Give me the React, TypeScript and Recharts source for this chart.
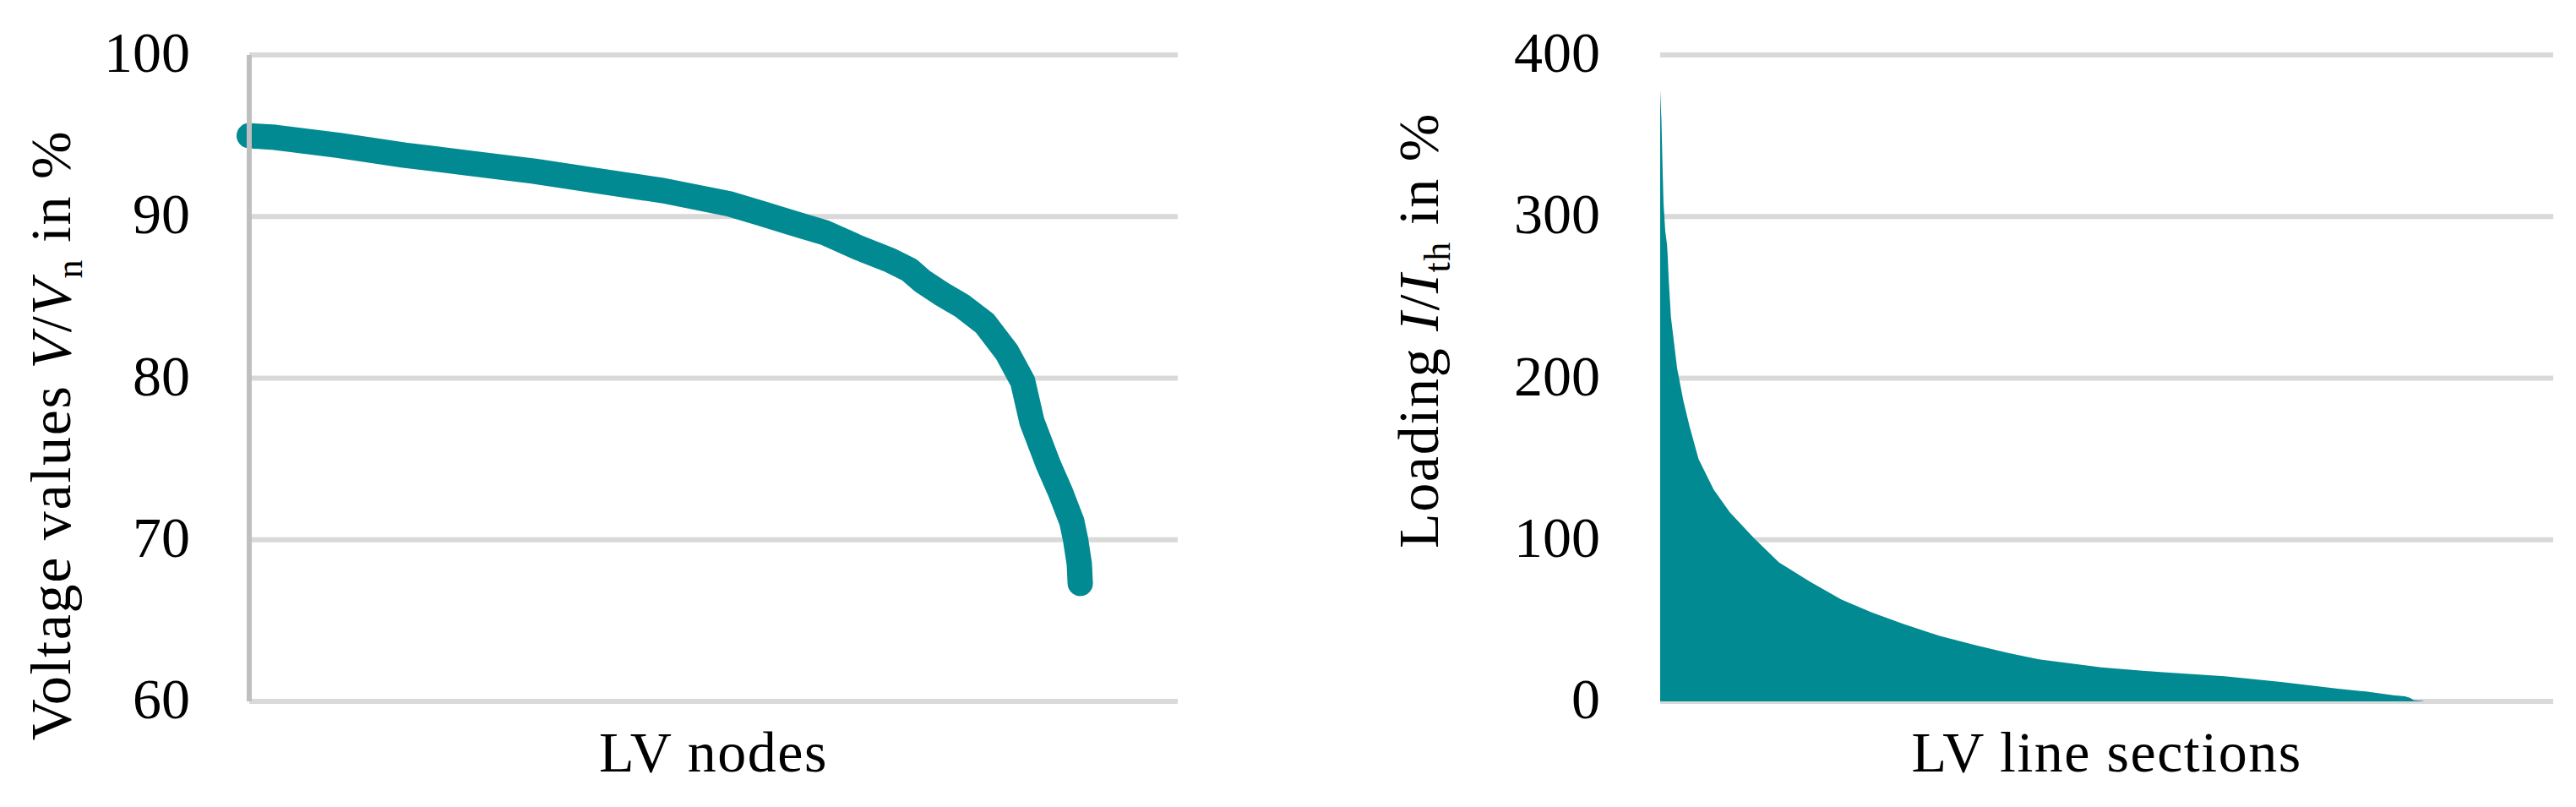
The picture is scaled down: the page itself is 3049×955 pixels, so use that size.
import React from "react";
import {
  LineChart,
  Line,
  AreaChart,
  Area,
  XAxis,
  YAxis,
  CartesianGrid,
} from "recharts";

const TEAL = "#028A93";
const GRID = "#D9D9D9";
const AXIS = "#BFBFBF";
const FONT = "'Liberation Serif', 'Times New Roman', serif";
const FS = 68;

// left panel: sorted node voltages, node rank on a 0..1000 scale of the axis
const nodeRank = [
  0, 28, 97, 167, 237, 307, 376, 446, 516, 551, 585, 620, 655, 690, 711, 725,
  746, 767, 792, 816, 833, 843, 861, 874, 886, 890, 894, 895,
];
const voltagePct = [
  95.0, 94.9, 94.4, 93.8, 93.3, 92.8, 92.2, 91.6, 90.8, 90.2, 89.6, 89.0, 88.1,
  87.3, 86.7, 86.0, 85.2, 84.5, 83.4, 81.6, 79.8, 77.3, 74.6, 72.9, 71.1, 70.0,
  68.5, 67.3,
];
const voltageTicks = [60, 70, 80, 90, 100];

// right panel: sorted line loadings, section rank on a 0..1000 scale
const sectionRank = [
  0, 1.4, 2.8, 3.8, 5.7, 7.6, 8.5, 9.5, 12, 19, 26, 33, 43, 60, 78, 105, 133,
  168, 203, 237, 272, 313, 355, 390, 424, 494, 563, 632, 695, 727, 759, 790,
  821, 834, 840, 844, 854, 855,
];
const loadingPct = [
  378, 360, 328, 308, 291, 283, 275, 262, 238, 206, 186, 170, 150, 131, 117,
  101, 86, 74, 63, 55, 48, 40.5, 34.5, 30, 26, 21, 18, 15.5, 12, 10, 7.9, 6.1,
  3.8, 3.1, 2.1, 0.6, 0.3, 0,
];
const loadingTicks = [0, 100, 200, 300, 400];

const voltageData = nodeRank.map((x, i) => ({ x, v: voltagePct[i] }));
const loadingData = sectionRank.map((x, i) => ({ x, v: loadingPct[i] }));

function YTick(props: any) {
  const { x, y, payload } = props;
  return (
    <text x={x} y={y + 20} textAnchor="end" fontFamily={FONT} fontSize={FS} fill="#000">
      {payload.value}
    </text>
  );
}

function XTitle(cx: number, text: string) {
  return () => (
    <text
      x={cx}
      y={913}
      textAnchor="middle"
      fontFamily={FONT}
      fontSize={FS}
      letterSpacing={1.5}
      fill="#000"
    >
      {text}
    </text>
  );
}

function YTitle(bx: number, cy: number, main: string, sym: string, sub: string) {
  return () => (
    <text
      transform={`translate(${bx}, ${cy}) rotate(-90)`}
      x={0}
      y={0}
      textAnchor="middle"
      fontFamily={FONT}
      fontSize={FS}
      letterSpacing={1.7}
      fill="#000"
    >
      {main}
      <tspan fontStyle="italic">{sym}</tspan>
      {"/"}
      <tspan fontStyle="italic">{sym}</tspan>
      <tspan fontSize={44} dy={14}>{sub}</tspan>
      <tspan dy={-14}>{" in %"}</tspan>
    </text>
  );
}

export default function App() {
  return (
    <div
      style={{
        position: "absolute",
        left: 0,
        top: 0,
        width: 3049,
        height: 955,
        background: "#fff",
      }}
    >
      <div style={{ position: "absolute", left: 0, top: 0 }}>
        <LineChart
          width={1500}
          height={955}
          data={voltageData}
          margin={{ top: 65, right: 106, left: 0, bottom: 0 }}
        >
          <CartesianGrid vertical={false} stroke={GRID} strokeWidth={6} />
          <XAxis
            type="number"
            dataKey="x"
            domain={[0, 1000]}
            tick={false}
            tickLine={false}
            axisLine={false}
            height={125}
            label={{ content: XTitle(844.5, "LV nodes") }}
          />
          <YAxis
            type="number"
            domain={[60, 100]}
            ticks={voltageTicks}
            width={295}
            tickSize={0}
            tickMargin={70}
            tickLine={false}
            axisLine={{ stroke: AXIS, strokeWidth: 6 }}
            tick={<YTick />}
            label={{ content: YTitle(83, 515, "Voltage values ", "V", "n") }}
          />
          <Line
            type="linear"
            dataKey="v"
            stroke={TEAL}
            strokeWidth={30}
            strokeLinecap="round"
            strokeLinejoin="round"
            dot={false}
            isAnimationActive={false}
          />
        </LineChart>
      </div>
      <div style={{ position: "absolute", left: 1500, top: 0 }}>
        <AreaChart
          width={1549}
          height={955}
          data={loadingData}
          margin={{ top: 65, right: 27, left: 0, bottom: 0 }}
        >
          <CartesianGrid vertical={false} stroke={GRID} strokeWidth={6} />
          <XAxis
            type="number"
            dataKey="x"
            domain={[0, 1000]}
            tick={false}
            tickLine={false}
            axisLine={false}
            height={125}
            label={{ content: XTitle(993.5, "LV line sections") }}
          />
          <YAxis
            type="number"
            domain={[0, 400]}
            ticks={loadingTicks}
            width={465}
            tickSize={0}
            tickMargin={71}
            tickLine={false}
            axisLine={false}
            tick={<YTick />}
            label={{ content: YTitle(202, 391, "Loading ", "I", "th") }}
          />
          <Area
            type="linear"
            dataKey="v"
            stroke="none"
            fill={TEAL}
            fillOpacity={1}
            baseValue={0}
            isAnimationActive={false}
          />
        </AreaChart>
      </div>
    </div>
  );
}
